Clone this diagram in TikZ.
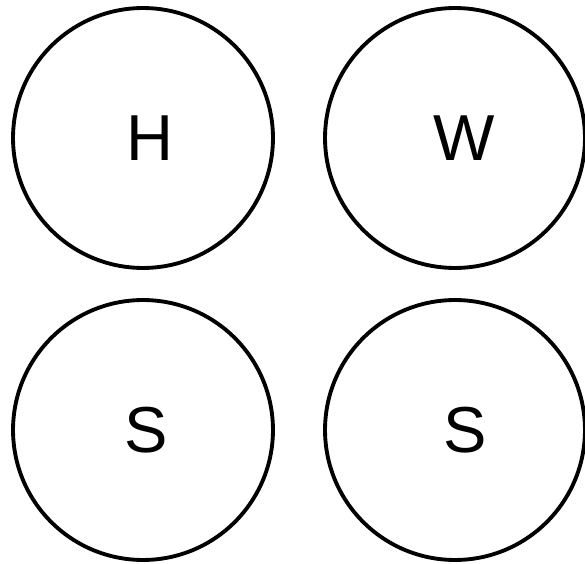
\documentclass[tikz,border=0pt]{standalone}
\usepackage{fontspec}
\setmainfont{Liberation Sans}
\usepackage{tikz}
\usetikzlibrary{positioning}

\begin{document}
\begin{tikzpicture}[
x=0.02cm,y=-0.02cm,
ring/.style={draw=black,circle,line width=2.2pt,minimum size=5.2cm,inner sep=0pt,align=center,font=\fontsize{37}{40}\selectfont}
]
\useasboundingbox (0,0) rectangle (585,564);
\node[ring] (heat) at (143,138) {\hspace{8pt}H};
\node[ring] (work) at (455,138) {\hspace{10pt}W};
\node[ring] (srcA) at (143,430) {\hspace{4pt}S};
\node[ring] (srcB) at (455,430) {\hspace{12pt}S};
\end{tikzpicture}
\end{document}
